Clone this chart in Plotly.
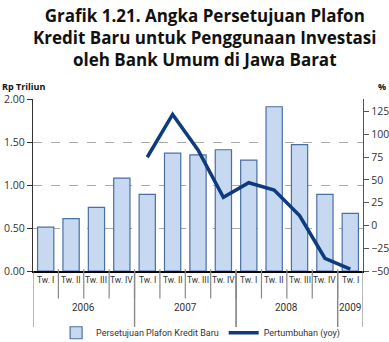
import plotly.graph_objects as go

quarters = ["Tw. I", "Tw. II", "Tw. III", "Tw. IV",
            "Tw. I", "Tw. II", "Tw. III", "Tw. IV",
            "Tw. I", "Tw. II", "Tw. III", "Tw. IV",
            "Tw. I"]
years = ["2006", "2007", "2008", "2009"]
year_spans = [(0, 3), (4, 7), (8, 11), (12, 12)]
plafon = [0.51, 0.61, 0.74, 1.08, 0.89, 1.37, 1.35, 1.41, 1.29, 1.91, 1.47, 0.89, 0.67]
growth = [None, None, None, None, 75, 122, 83, 31, 47, 39, 11, -36, -48]
left_ticks = [0.0, 0.5, 1.0, 1.5, 2.0]
right_ticks = [-50, -25, 0, 25, 50, 75, 100, 125]

FONT = "Open Sans, Noto Sans, sans-serif"
SMALL = "Roboto, Open Sans, sans-serif"
x = list(range(len(quarters)))

fig = go.Figure()
fig.add_trace(go.Bar(
    x=x, y=plafon, name="Persetujuan Plafon Kredit Baru",
    marker=dict(color="#C6D9F1", line=dict(color="#4A6FA5", width=1.2)),
    yaxis="y"))
fig.add_trace(go.Scatter(
    x=x, y=growth, name="Pertumbuhan (yoy)", mode="lines",
    line=dict(color="#0E3B7E", width=3.5), yaxis="y2", connectgaps=False))

shapes = []
# quarter separators
for i in range(len(quarters) - 1):
    shapes.append(dict(type="line", xref="x", yref="paper", x0=i + 0.5, x1=i + 0.5,
                       y0=0.01, y1=-0.16, line=dict(color="#888888", width=1.2)))
# year separators (longer)
for (a, b) in year_spans:
    for xv in (a - 0.5, b + 0.5):
        shapes.append(dict(type="line", xref="x", yref="paper", x0=xv, x1=xv,
                           y0=0, y1=-0.325, line=dict(color="#888888", width=1.2)))

annotations = []
for i, q in enumerate(quarters):
    annotations.append(dict(x=i, y=-0.095, xref="x", yref="paper", text=q,
                            showarrow=False, font=dict(size=8.5, color="#333333", family=SMALL)))
for (a, b), yr in zip(year_spans, years):
    annotations.append(dict(x=(a + b) / 2, y=-0.255, xref="x", yref="paper", text=yr,
                            showarrow=False, font=dict(size=10, color="#333333", family=SMALL)))
annotations.append(dict(x=-0.1, y=1.12, xref="paper", yref="paper", text="<b>Rp Triliun</b>",
                        showarrow=False, xanchor="left",
                        font=dict(size=9, color="#111111", family=FONT)))
annotations.append(dict(x=1.04, y=1.12, xref="paper", yref="paper", text="<b>%</b>",
                        showarrow=False, xanchor="left",
                        font=dict(size=9, color="#111111", family=FONT)))
annotations.append(dict(x=0.521, y=1.565, xref="paper", yref="paper", yanchor="top",
                        text="<b>Grafik 1.21. Angka Persetujuan Plafon<br>Kredit Baru untuk Penggunaan Investasi<br>oleh Bank Umum di Jawa Barat</b>",
                        showarrow=False, xanchor="center",
                        font=dict(size=17, color="#111111", family=FONT)))

fig.update_layout(
    width=389, height=342,
    margin=dict(l=33, r=26, t=99, b=71, autoexpand=False),
    paper_bgcolor="white", plot_bgcolor="white",
    bargap=0.36,
    showlegend=True,
    legend=dict(orientation="h", x=0.07, xanchor="left", yref="container", y=0.027,
                yanchor="middle",
                font=dict(size=9, color="#333333", family=SMALL),
                itemwidth=30, tracegroupgap=0, bgcolor="rgba(0,0,0,0)"),
    xaxis=dict(range=[-0.5, len(quarters) - 0.5], showticklabels=False, showgrid=False,
               zeroline=False, showline=True, linecolor="#000000", linewidth=1.5, ticks=""),
    yaxis=dict(range=[0, 2.0], tickvals=left_ticks, tickformat=".2f",
               showgrid=True, gridcolor="#AAAAAA", griddash="dash", gridwidth=1,
               zeroline=False, showline=True, linecolor="#333333", linewidth=1.2,
               ticks="outside", ticklen=5, tickcolor="#333333",
               tickfont=dict(size=10.5, color="#333333", family=FONT)),
    yaxis2=dict(range=[-50, 139], tickvals=right_ticks, overlaying="y", side="right",
                showgrid=False, zeroline=False, showline=True, linecolor="#555555",
                linewidth=1.2, ticks="outside", ticklen=5, tickcolor="#555555",
                tickfont=dict(size=10.5, color="#333333", family=FONT)),
    shapes=shapes, annotations=annotations,
    font=dict(family=FONT),
)
fig.write_html("out.html")
